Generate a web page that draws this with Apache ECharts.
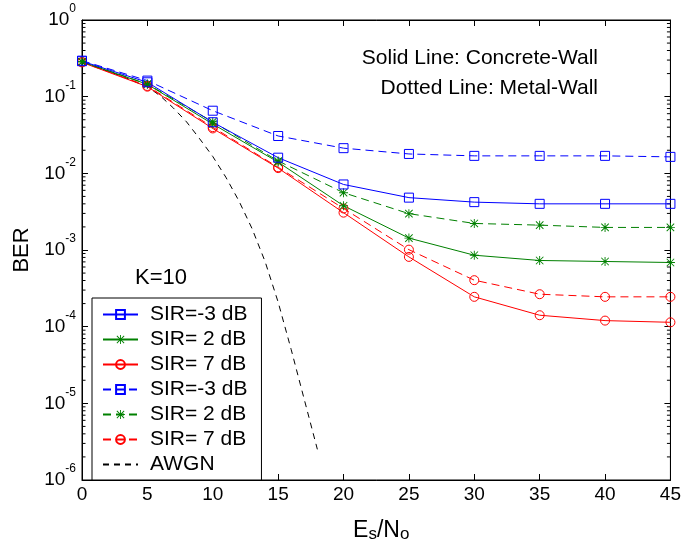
<!DOCTYPE html>
<html>
<head>
<meta charset="utf-8">
<title>BER vs Es/No</title>
<script src="https://cdn.jsdelivr.net/npm/echarts@6/dist/echarts.min.js"></script>
<style>
  html, body { margin: 0; padding: 0; background: #fff; }
  #chart { width: 684px; height: 548px; }
</style>
</head>
<body>
<div id="chart"></div>
<script>
// Es/No sample points (dB)
const snr = [0, 5, 10, 15, 20, 25, 30, 35, 40, 45];

// Concrete wall (solid lines)
const concreteSirM3 = [0.29, 0.154, 0.0464, 0.016, 0.00716, 0.00482, 0.00421, 0.0040, 0.0040, 0.0040];
const concreteSir2  = [0.285, 0.145, 0.044, 0.0140, 0.00378, 0.00143, 0.000855, 0.00073, 0.000708, 0.000687];
const concreteSir7  = [0.28, 0.135, 0.0385, 0.0117, 0.00307, 0.000813, 0.000245, 0.000141, 0.00012, 0.000114];

// Metal wall (dashed lines)
const metalSirM3 = [0.295, 0.162, 0.0656, 0.0307, 0.0213, 0.0179, 0.0169, 0.0169, 0.0169, 0.0164];
const metalSir2  = [0.285, 0.146, 0.047, 0.0145, 0.00559, 0.00298, 0.00222, 0.00211, 0.00197, 0.00197];
const metalSir7  = [0.283, 0.138, 0.040, 0.0120, 0.00348, 0.00101, 0.000404, 0.000265, 0.000245, 0.000245];

// AWGN reference curve
const awgnSnr = [0, 1, 2, 3, 4, 5, 6, 7, 8, 9, 10, 11, 12, 13, 14, 15, 16, 17, 18];
const awgnBer = [0.280, 0.245, 0.214, 0.186, 0.158, 0.135, 0.102, 0.0708, 0.0468, 0.0282,
                 0.0166, 0.00891, 0.00437, 0.00191, 7.08e-4, 2.09e-4, 5.01e-5, 1.12e-5, 2.51e-6];

// Legend labels and annotation text
const legendLabels = {
  concreteM3: 'SIR=-3 dB', concrete2: 'SIR= 2 dB', concrete7: 'SIR= 7 dB',
  metalM3: 'SIR=-3 dB', metal2: 'SIR= 2 dB', metal7: 'SIR= 7 dB', awgn: 'AWGN'
};
const noteSolid = 'Solid Line: Concrete-Wall';
const noteDotted = 'Dotted Line: Metal-Wall';
const noteK = 'K=10';

// Log-axis minor tick positions (2..9 within each decade)
const minorTickValues = [];
for (let d = -6; d < 0; d++) {
  for (let m = 2; m <= 9; m++) minorTickValues.push(m * Math.pow(10, d));
}

const FONT = "'Liberation Sans', Arial, Helvetica, sans-serif";
const BLUE = '#0000ff', GREEN = '#008000', RED = '#ff0000';
const DASH = [8, 5];
// asterisk marker built from thin bars (+ and x)
const STAR = 'path://M4.5,0 L5.5,0 L5.5,10 L4.5,10 Z M0,4.5 L10,4.5 L10,5.5 L0,5.5 Z ' +
  'M1.2,0.5 L9.5,8.8 L8.8,9.5 L0.5,1.2 Z M8.8,0.5 L9.5,1.2 L1.2,9.5 L0.5,8.8 Z';

function pairs(xs, ys) { return xs.map((x, i) => [x, ys[i]]); }

function mk(name, ys, color, symbol, dashed) {
  const filled = symbol === STAR;
  return {
    name: name,
    type: 'line',
    data: pairs(snr, ys),
    symbol: symbol,
    symbolSize: 9,
    showSymbol: true,
    animation: false,
    lineStyle: { color: color, width: 1, type: dashed ? DASH : 'solid' },
    itemStyle: filled
      ? { color: color, borderWidth: 0 }
      : { color: 'rgba(0,0,0,0)', borderColor: color, borderWidth: 1 },
    emphasis: { disabled: true },
    z: 3
  };
}

const axisLineStyle = { show: true, onZero: false, lineStyle: { color: '#000', width: 1 } };
const tickStyle = { show: true, inside: true, length: 6, lineStyle: { color: '#000', width: 1 } };

const chart = echarts.init(document.getElementById('chart'), null, { renderer: 'canvas' });

const option = {
  backgroundColor: '#fff',
  animation: false,
  textStyle: { fontFamily: FONT, color: '#000' },
  grid: {
    left: 82, top: 20, width: 590, height: 468, containLabel: false,
    show: true, borderColor: '#000', borderWidth: 1, backgroundColor: 'rgba(0,0,0,0)'
  },
  xAxis: [
    {
      type: 'value', min: 0, max: 45, interval: 5, position: 'bottom',
      name: '{e|E}{sub|s}{e|/N}{sub|o}',
      nameLocation: 'middle', nameGap: 39,
      nameTextStyle: {
        padding: [0, 0, 0, 10],
        rich: {
          e: { fontSize: 23, fontFamily: FONT, color: '#000', lineHeight: 24 },
          sub: { fontSize: 17, fontFamily: FONT, color: '#000', lineHeight: 14, verticalAlign: 'bottom' }
        }
      },
      axisLine: axisLineStyle,
      axisTick: tickStyle,
      axisLabel: { show: true, fontSize: 19, color: '#000', fontFamily: FONT, margin: 5 },
      splitLine: { show: false }
    },
    {
      type: 'value', min: 0, max: 45, interval: 5, position: 'top',
      axisLine: axisLineStyle,
      axisTick: tickStyle,
      axisLabel: { show: false },
      splitLine: { show: false }
    }
  ],
  yAxis: [
    {
      type: 'log', logBase: 10, min: 1e-6, max: 1, position: 'left',
      name: 'BER', nameLocation: 'middle', nameGap: 48, nameRotate: 90,
      nameTextStyle: { fontSize: 22, color: '#000', fontFamily: FONT },
      axisLine: axisLineStyle,
      axisTick: tickStyle,
      axisLabel: {
        show: true,
        margin: 6,
        formatter: function (v) {
          const e = Math.round(Math.log10(v));
          return '{b|10}{s|' + e + '}';
        },
        rich: {
          b: { fontSize: 19, fontFamily: FONT, color: '#000', lineHeight: 34, verticalAlign: 'middle' },
          s: { fontSize: 12, fontFamily: FONT, color: '#000', lineHeight: 12, verticalAlign: 'top' }
        }
      },
      splitLine: { show: false }
    },
    {
      type: 'log', logBase: 10, min: 1e-6, max: 1, position: 'right',
      axisLine: axisLineStyle,
      axisTick: tickStyle,
      axisLabel: { show: false },
      splitLine: { show: false }
    }
  ],
  legend: {
    orient: 'vertical',
    left: 92, top: 298,
    padding: [4, 14, 3, 10],
    backgroundColor: '#fff',
    borderColor: '#000', borderWidth: 1, borderRadius: 0,
    itemWidth: 35, itemHeight: 11, itemGap: 0,
    selectedMode: false,
    textStyle: { fontSize: 21, fontFamily: FONT, color: '#000', lineHeight: 25, padding: [0, 0, 0, 7] },
    formatter: function (name) { return legendLabels[name]; },
    data: [
      'concreteM3', 'concrete2', 'concrete7', 'metalM3', 'metal2', 'metal7',
      { name: 'awgn', itemStyle: { color: 'rgba(0,0,0,0)', borderWidth: 0, opacity: 0 } }
    ]
  },
  graphic: [
    { type: 'text', right: 86, top: 48,
      style: { text: noteSolid, font: '21px ' + FONT, fill: '#000', textAlign: 'right' } },
    { type: 'text', right: 86, top: 78,
      style: { text: noteDotted, font: '21px ' + FONT, fill: '#000', textAlign: 'right' } },
    { type: 'text', left: 135, top: 267,
      style: { text: noteK, font: '22px ' + FONT, fill: '#000' } }
  ],
  series: [
    {
      name: 'minorTicks',
      type: 'custom',
      silent: true,
      animation: false,
      xAxisIndex: 0, yAxisIndex: 0,
      data: minorTickValues.map(v => [0, v]),
      renderItem: function (params, api) {
        const v = api.value(1);
        const pl = api.coord([0, v]);
        const pr = api.coord([45, v]);
        const st = { stroke: '#000', lineWidth: 1 };
        return {
          type: 'group',
          children: [
            { type: 'line', shape: { x1: pl[0], y1: pl[1], x2: pl[0] + 3.5, y2: pl[1] }, style: st },
            { type: 'line', shape: { x1: pr[0] - 3.5, y1: pr[1], x2: pr[0], y2: pr[1] }, style: st }
          ]
        };
      },
      z: 1
    },
    {
      name: 'awgn',
      type: 'line',
      data: pairs(awgnSnr, awgnBer),
      symbol: 'none',
      smooth: false,
      animation: false,
      lineStyle: { color: '#000', width: 1, type: [6, 5] },
      itemStyle: { color: '#000' },
      emphasis: { disabled: true },
      z: 2
    },
    mk('metal7', metalSir7, RED, 'circle', true),
    mk('metal2', metalSir2, GREEN, STAR, true),
    mk('metalM3', metalSirM3, BLUE, 'rect', true),
    mk('concrete7', concreteSir7, RED, 'circle', false),
    mk('concrete2', concreteSir2, GREEN, STAR, false),
    mk('concreteM3', concreteSirM3, BLUE, 'rect', false)
  ]
};

chart.setOption(option);
</script>
</body>
</html>
